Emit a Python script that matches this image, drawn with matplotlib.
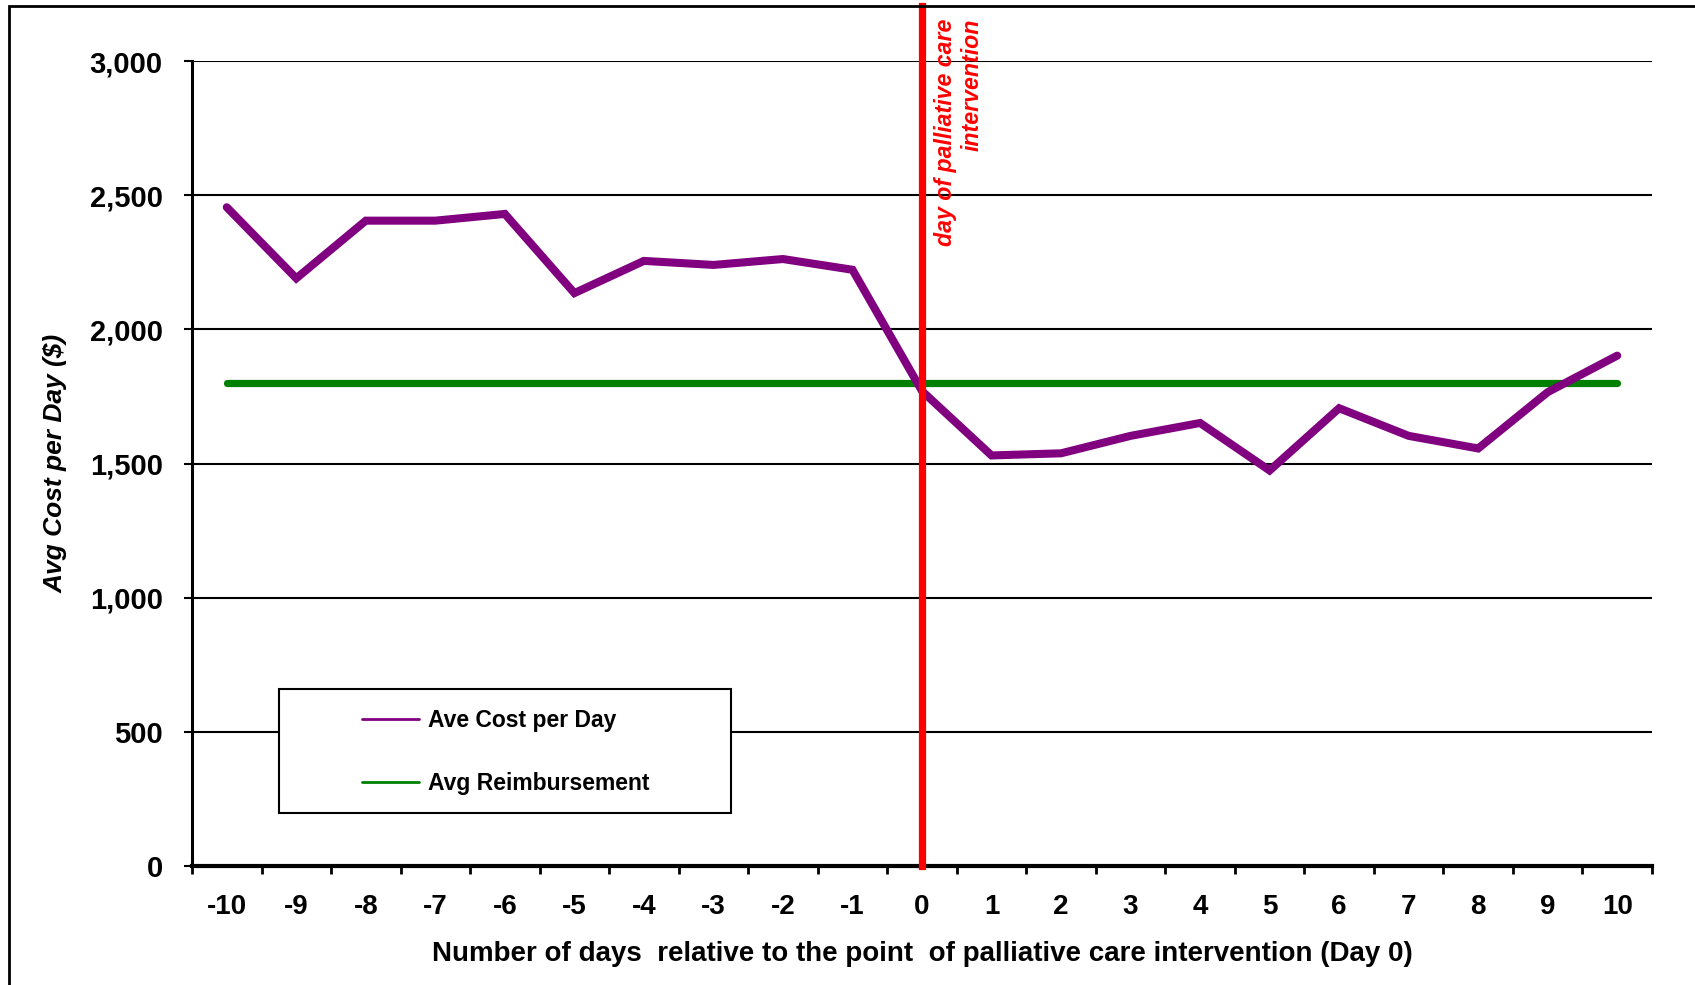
import matplotlib
matplotlib.use('Agg')
from matplotlib import pyplot as plt
from matplotlib.patches import Rectangle

# data
days = ['-10', '-9', '-8', '-7', '-6', '-5', '-4', '-3', '-2', '-1', '0',
        '1', '2', '3', '4', '5', '6', '7', '8', '9', '10']
cost_per_day = [2455, 2190, 2405, 2405, 2430, 2135, 2255, 2240, 2262, 2222, 1770,
                1530, 1538, 1603, 1651, 1474, 1706, 1603, 1556, 1766, 1902]
reimbursement = [1800] * 21
yticks = [0, 500, 1000, 1500, 2000, 2500, 3000]
ytick_labels = ['0', '500', '1,000', '1,500', '2,000', '2,500', '3,000']

plt.rcParams['font.family'] = ['Liberation Sans', 'DejaVu Sans']

W, H = 1695, 985
fig = plt.figure(figsize=(W/100, H/100), dpi=100)
ax = fig.add_axes([192/W, 1 - 866/H, 1460/W, 805/H])

def ax_frac(px, py):
    # figure pixel (from top-left) -> axes fraction
    return (px - 192) / 1460, (866 - py) / 805

x = list(range(len(days)))
ax.plot(x, cost_per_day, color='#800080', lw=5.8, solid_capstyle='round',
        solid_joinstyle='miter', label='Ave Cost per Day', zorder=4)
ax.plot(x, reimbursement, color='#008000', lw=5.2, solid_capstyle='round',
        label='Avg Reimbursement', zorder=3)

# day 0 marker, runs up to the outer frame
ax.axvline(10, ymin=0, ymax=1 + 55/805, color='red', lw=5.2, clip_on=False, zorder=5)
tx, ty = ax_frac(934, 19)
ax.text(tx, ty, 'day of palliative care\nintervention', transform=ax.transAxes,
        rotation=90, color='red', fontsize=16.7, fontweight='bold', fontstyle='italic',
        ha='left', va='top', multialignment='right', linespacing=1.2, zorder=6)

ax.set_xlim(-0.5, 20.5)
ax.set_ylim(0, 3000)

ax.set_yticks(yticks)
ax.set_yticklabels(ytick_labels, fontsize=21, fontweight='bold')
ax.yaxis.grid(True, color='black', lw=1.5)
ax.set_axisbelow(True)
ax.tick_params(axis='y', length=6, width=1.5, direction='out', pad=15)

ax.set_xticks(x)
ax.set_xticklabels(days, fontsize=20, fontweight='bold')
ax.set_xticks([i - 0.5 for i in range(22)], minor=True)
ax.tick_params(axis='x', which='major', length=0, pad=20)
ax.tick_params(axis='x', which='minor', length=6, width=2, direction='out')

for s in ['top', 'right']:
    ax.spines[s].set_visible(False)
ax.spines['left'].set_linewidth(2.2)
ax.spines['bottom'].set_linewidth(3)

ax.set_xlabel('Number of days  relative to the point  of palliative care intervention (Day 0)',
              fontsize=20, fontweight='bold', labelpad=15)
ax.set_ylabel('Avg Cost per Day ($)', fontsize=19, fontweight='bold',
              fontstyle='italic', labelpad=16)

# legend frame drawn separately so the entries can sit inset like the original
x0, y0 = ax_frac(279, 813)
x1, y1 = ax_frac(731, 689)
ax.add_patch(Rectangle((x0, y0), x1 - x0, y1 - y0, transform=ax.transAxes,
                       facecolor='white', edgecolor='black', lw=1.5, zorder=7))
lx, ly = ax_frac(362, 752)
leg = ax.legend(loc='center left', bbox_to_anchor=(lx, ly),
                prop={'weight': 'bold', 'size': 16.5}, frameon=False,
                handlelength=2.5, handletextpad=0.4, labelspacing=1.75,
                borderpad=0, borderaxespad=0)
leg.set_zorder(8)
for h in leg.legend_handles:
    h.set_linewidth(2)

# outer chart-area frame (open on the right and bottom)
fig.patches.append(Rectangle((9/W, -0.1), 1.2, 1 - 6/H + 0.1,
                             transform=fig.transFigure, fill=False,
                             edgecolor='black', lw=2))

fig.savefig('out.png', dpi=100)
